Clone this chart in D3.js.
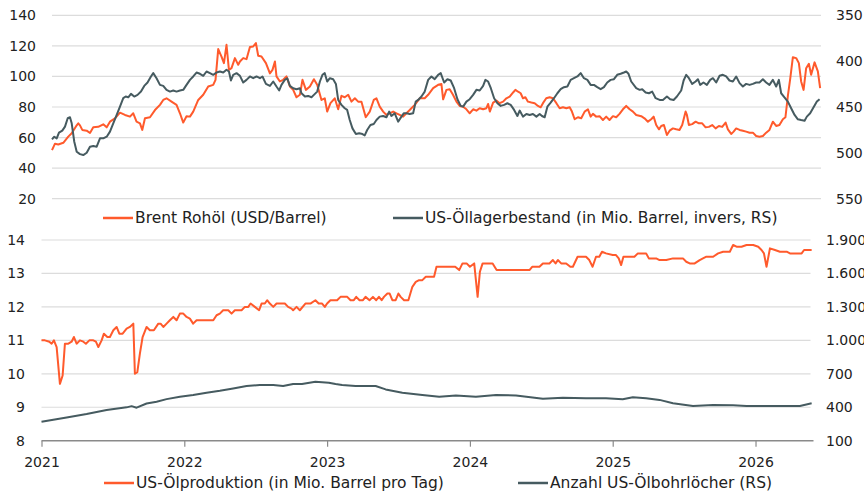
<!DOCTYPE html>
<html><head><meta charset="utf-8">
<script src="https://cdn.jsdelivr.net/npm/d3@7/dist/d3.min.js"></script>
<style>
body{margin:0;background:#fff}
svg{display:block}
text{font-family:"DejaVu Sans",Verdana,sans-serif;fill:#222}
</style>
</head><body>
<svg id="chart" width="864" height="494"></svg>
<script>
// ---------- DATA (time = years after 1 Jan 2021) ----------
const BASE_YEAR = 2021;
const END_OFFSET = 5.385;

const brent = [[0,51.8],[0.021,56],[0.044,55.5],[0.079,56.6],[0.114,60.6],[0.138,62.8],[0.173,68],[0.184,69.3],[0.196,68],[0.212,65],[0.243,64.5],[0.266,63],[0.289,66.7],[0.324,67],[0.359,68.7],[0.383,66.7],[0.406,70.4],[0.441,72.6],[0.476,76.3],[0.511,74.8],[0.546,73.7],[0.569,75.9],[0.592,70.4],[0.616,69.3],[0.632,65],[0.651,72.6],[0.686,73.3],[0.721,78],[0.756,81.4],[0.779,84.6],[0.802,85.7],[0.837,83.5],[0.872,81.4],[0.896,75.9],[0.919,69.8],[0.942,74],[0.966,73.7],[0.989,77],[1.024,84.6],[1.059,88],[1.094,93.4],[1.129,94.5],[1.145,97.8],[1.164,117.9],[1.187,113],[1.204,108.7],[1.222,120.7],[1.239,104.3],[1.257,105.4],[1.281,112],[1.304,107.6],[1.316,109.8],[1.339,112],[1.362,111.3],[1.386,119.2],[1.409,119.6],[1.428,121.8],[1.444,113.5],[1.467,113],[1.498,108.7],[1.526,102],[1.544,104.3],[1.561,109.8],[1.572,100],[1.596,96.7],[1.619,97.8],[1.642,100],[1.666,93.4],[1.689,91.2],[1.712,86.4],[1.736,88],[1.754,97.8],[1.778,91.2],[1.806,93.4],[1.834,98.2],[1.857,94.5],[1.887,84.6],[1.910,85.7],[1.927,77],[1.950,82.5],[1.980,85.7],[2.004,78.5],[2.027,87.3],[2.050,86.4],[2.074,88],[2.097,83.5],[2.121,85.7],[2.144,83.5],[2.167,83.5],[2.197,73.3],[2.225,77],[2.253,84.6],[2.272,85.7],[2.295,80.2],[2.319,77],[2.342,74.8],[2.365,75.9],[2.389,77],[2.412,75.9],[2.435,74.8],[2.459,73.7],[2.482,75.9],[2.505,78],[2.540,81.4],[2.575,85.7],[2.610,85.7],[2.634,88],[2.669,92.3],[2.704,94.5],[2.727,95],[2.739,85],[2.762,91.2],[2.785,91.6],[2.808,88],[2.832,83.5],[2.855,80.7],[2.879,80.2],[2.902,78.5],[2.925,75.9],[2.949,78.5],[2.972,77.6],[2.995,79.2],[3.019,78.5],[3.042,79.2],[3.054,82],[3.066,77],[3.089,82.9],[3.112,84.2],[3.135,82.5],[3.159,83.5],[3.182,85.7],[3.205,86.8],[3.229,89.5],[3.245,91.2],[3.264,90],[3.282,89],[3.298,85.7],[3.315,86.4],[3.333,83.5],[3.357,82.9],[3.380,82.5],[3.403,80.7],[3.422,79.8],[3.438,82.5],[3.461,85.7],[3.485,86.4],[3.508,85.7],[3.532,82.5],[3.555,79.2],[3.578,79.8],[3.602,79.2],[3.625,79.8],[3.641,77],[3.660,72],[3.683,73.3],[3.706,72.6],[3.730,77],[3.753,78.5],[3.772,73.7],[3.788,75.5],[3.811,73.7],[3.834,74],[3.858,71.5],[3.881,73.7],[3.904,71.5],[3.928,74],[3.951,73.3],[3.974,75.5],[3.998,78.5],[4.021,80.7],[4.045,78.5],[4.068,77],[4.091,74.8],[4.126,74],[4.149,72.6],[4.173,70.4],[4.196,72],[4.213,73.7],[4.231,68.2],[4.250,65.4],[4.266,67.6],[4.285,68.2],[4.306,61.7],[4.325,64.5],[4.348,66],[4.371,65.4],[4.394,65],[4.413,68.2],[4.437,77],[4.446,74.8],[4.460,68.2],[4.483,68.8],[4.507,70.4],[4.530,69.3],[4.553,69.3],[4.577,66.7],[4.600,67],[4.623,68.2],[4.647,66],[4.670,67.6],[4.693,67],[4.717,69.8],[4.733,65.4],[4.756,62.4],[4.773,63.9],[4.791,66],[4.815,65],[4.838,64.5],[4.861,63.9],[4.885,63.2],[4.908,63.2],[4.931,61],[4.954,60.6],[4.978,61],[5.001,63.2],[5.024,65],[5.048,70.4],[5.071,67.6],[5.094,68.2],[5.118,72],[5.136,73.3],[5.153,87.3],[5.170,98.9],[5.188,112.6],[5.211,112],[5.230,108.7],[5.246,96.7],[5.263,91.2],[5.281,105.4],[5.300,108.3],[5.316,101.1],[5.340,109.2],[5.363,103.3],[5.379,92.3]];

const inventory = [[0,485.3],[0.016,482.4],[0.033,484.2],[0.049,478],[0.072,475.8],[0.091,471.4],[0.110,462.3],[0.126,461.2],[0.138,467.8],[0.156,487.9],[0.173,498.8],[0.196,501.4],[0.219,502.4],[0.243,499.9],[0.266,493.3],[0.289,492.6],[0.313,493.3],[0.336,484.2],[0.359,484.2],[0.383,482.4],[0.406,476.9],[0.429,467.8],[0.453,458.7],[0.476,449.6],[0.499,440.4],[0.516,438.6],[0.534,439.4],[0.553,435.7],[0.576,438.6],[0.599,436.8],[0.623,433.2],[0.646,427],[0.669,423.3],[0.693,416.7],[0.709,413.1],[0.732,418.6],[0.756,425.9],[0.779,427],[0.802,431.3],[0.826,433.2],[0.849,432],[0.872,433.2],[0.896,432],[0.919,431.3],[0.942,425.9],[0.966,420.4],[0.989,416.7],[1.012,412.4],[1.036,413.8],[1.059,416],[1.082,411.3],[1.106,413.1],[1.129,414.9],[1.152,412.4],[1.176,411.3],[1.199,412.4],[1.222,409.4],[1.239,411.3],[1.253,421.1],[1.269,414.9],[1.292,413.1],[1.316,416],[1.339,423.3],[1.362,420.4],[1.386,416.7],[1.409,418.6],[1.432,416.7],[1.456,418.6],[1.474,416.7],[1.498,424.8],[1.526,427],[1.549,422.2],[1.572,427.7],[1.591,432],[1.607,425.9],[1.630,420.4],[1.647,418.6],[1.666,427],[1.689,429.5],[1.712,430.6],[1.736,429.5],[1.747,435],[1.771,438.6],[1.794,437.9],[1.817,439.4],[1.834,436.8],[1.857,433.2],[1.876,422.2],[1.894,414.9],[1.910,413.1],[1.927,422.2],[1.946,418.6],[1.969,419.7],[1.988,424.8],[2.004,442.3],[2.027,447.7],[2.050,451.4],[2.067,453.2],[2.085,464.2],[2.104,473.3],[2.128,479.5],[2.151,478.7],[2.174,479.5],[2.190,480.9],[2.207,475.1],[2.230,469.6],[2.253,468.5],[2.272,464.2],[2.295,460.5],[2.319,459.8],[2.342,461.2],[2.361,455],[2.377,459.8],[2.400,456.9],[2.424,466],[2.447,460.5],[2.463,456.9],[2.482,456.9],[2.505,457.6],[2.529,456.9],[2.547,444.1],[2.564,442.3],[2.587,438.6],[2.610,433.2],[2.634,420.4],[2.657,416.7],[2.680,419.7],[2.704,414.9],[2.722,413.1],[2.746,423.3],[2.769,419.7],[2.792,421.1],[2.816,429.5],[2.839,441.5],[2.862,448.8],[2.879,449.6],[2.902,444.1],[2.925,441.5],[2.949,436.8],[2.972,431.3],[2.995,432],[3.019,427],[3.035,420.4],[3.054,422.2],[3.073,429.5],[3.096,440.4],[3.119,445.9],[3.142,448.8],[3.166,447.7],[3.189,445.9],[3.212,447.7],[3.236,453.2],[3.259,459.8],[3.275,453.9],[3.298,460.5],[3.322,457.6],[3.345,458.7],[3.368,457.6],[3.392,460.5],[3.415,457.6],[3.431,459.8],[3.450,461.2],[3.469,449.6],[3.492,445.2],[3.515,440.4],[3.539,435],[3.562,430.6],[3.585,428.4],[3.609,427.7],[3.632,420.4],[3.655,418.6],[3.679,416.7],[3.702,413.1],[3.725,418.6],[3.749,420.4],[3.772,425.9],[3.795,425.9],[3.818,428.4],[3.842,430.6],[3.865,428.4],[3.888,423.3],[3.912,420.4],[3.935,419.7],[3.958,414.9],[3.982,413.8],[4.005,412.4],[4.021,411.3],[4.037,413.8],[4.056,422.2],[4.091,429.5],[4.115,431.3],[4.133,430.6],[4.157,434.2],[4.180,435],[4.203,433.2],[4.227,440.4],[4.255,442.3],[4.278,442.3],[4.306,438.6],[4.329,441.5],[4.353,442.3],[4.376,438.6],[4.406,432],[4.423,421.1],[4.441,414.9],[4.460,418.6],[4.483,424.8],[4.507,422.2],[4.523,419.7],[4.539,425.9],[4.562,423.3],[4.586,425.9],[4.609,420.4],[4.628,418.6],[4.651,423.3],[4.675,416],[4.698,414.9],[4.721,416.7],[4.744,421.1],[4.768,422.2],[4.791,416.7],[4.815,424],[4.838,427.7],[4.861,424.8],[4.885,425.9],[4.908,424.8],[4.931,423.3],[4.954,423.3],[4.978,419.7],[5.001,423.3],[5.024,425.9],[5.048,420.4],[5.071,427.7],[5.090,420.4],[5.106,435],[5.129,439.4],[5.153,444.1],[5.176,451.4],[5.200,458.7],[5.223,463.4],[5.246,464.2],[5.270,464.9],[5.286,460.5],[5.309,456.9],[5.333,450.3],[5.356,444.1],[5.375,441.5]];

const production = [[0,11.0],[0.024,11.0],[0.055,10.96],[0.071,10.9],[0.087,11.0],[0.106,10.8],[0.129,9.7],[0.148,9.95],[0.164,10.9],[0.188,10.9],[0.211,10.96],[0.227,11.1],[0.246,10.9],[0.269,11.0],[0.293,10.96],[0.311,10.9],[0.335,11.0],[0.363,11.0],[0.381,10.96],[0.398,10.8],[0.421,11.0],[0.437,11.2],[0.461,11.1],[0.479,11.1],[0.503,11.3],[0.526,11.4],[0.545,11.2],[0.568,11.2],[0.596,11.35],[0.619,11.4],[0.643,11.5],[0.654,10.0],[0.671,10.05],[0.689,10.6],[0.708,11.1],[0.736,11.4],[0.759,11.3],[0.787,11.3],[0.818,11.5],[0.834,11.5],[0.853,11.4],[0.876,11.5],[0.899,11.6],[0.923,11.7],[0.946,11.6],[0.969,11.8],[0.993,11.8],[1.016,11.7],[1.039,11.65],[1.062,11.5],[1.086,11.6],[1.203,11.6],[1.226,11.75],[1.249,11.8],[1.272,11.9],[1.308,11.9],[1.331,11.8],[1.354,11.9],[1.401,11.9],[1.424,12.0],[1.448,12.0],[1.464,12.1],[1.494,12.0],[1.524,11.9],[1.541,12.1],[1.564,12.1],[1.580,12.2],[1.599,12.1],[1.623,12.0],[1.646,12.1],[1.704,12.1],[1.727,12.0],[1.751,11.95],[1.762,11.9],[1.786,12.0],[1.809,11.9],[1.848,12.1],[1.883,12.1],[1.918,12.2],[1.941,12.1],[1.965,12.1],[1.984,12.0],[2.0,12.1],[2.023,12.2],[2.070,12.2],[2.094,12.3],[2.141,12.3],[2.164,12.2],[2.187,12.2],[2.204,12.3],[2.227,12.2],[2.251,12.2],[2.269,12.3],[2.297,12.2],[2.321,12.3],[2.344,12.2],[2.363,12.3],[2.382,12.2],[2.398,12.3],[2.422,12.4],[2.438,12.4],[2.457,12.2],[2.480,12.2],[2.499,12.4],[2.515,12.3],[2.539,12.2],[2.569,12.2],[2.597,12.6],[2.621,12.75],[2.644,12.8],[2.667,12.8],[2.691,12.9],[2.749,12.9],[2.766,13.2],[2.897,13.2],[2.925,13.1],[2.948,13.3],[2.977,13.3],[3.0,13.2],[3.030,13.3],[3.054,12.3],[3.070,13.05],[3.089,13.3],[3.159,13.3],[3.187,13.1],[3.417,13.1],[3.436,13.2],[3.487,13.2],[3.511,13.3],[3.557,13.3],[3.581,13.4],[3.600,13.3],[3.616,13.4],[3.639,13.3],[3.674,13.3],[3.703,13.2],[3.721,13.2],[3.754,13.5],[3.813,13.5],[3.836,13.4],[3.859,13.2],[3.883,13.5],[3.906,13.5],[3.925,13.65],[3.953,13.6],[4.0,13.55],[4.023,13.55],[4.042,13.45],[4.059,13.25],[4.075,13.5],[4.152,13.5],[4.176,13.6],[4.234,13.6],[4.253,13.45],[4.304,13.45],[4.328,13.4],[4.375,13.4],[4.422,13.45],[4.492,13.45],[4.515,13.35],[4.539,13.3],[4.574,13.3],[4.609,13.4],[4.632,13.45],[4.656,13.5],[4.703,13.5],[4.738,13.6],[4.773,13.65],[4.820,13.65],[4.843,13.85],[4.867,13.8],[4.902,13.8],[4.937,13.85],[4.984,13.85],[5.019,13.8],[5.042,13.7],[5.059,13.6],[5.077,13.2],[5.101,13.75],[5.136,13.7],[5.171,13.65],[5.218,13.65],[5.241,13.6],[5.323,13.6],[5.340,13.7],[5.393,13.7]];

const rigs = [[0,270],[0.176,309],[0.316,339],[0.456,375],[0.596,399],[0.631,410],[0.666,396],[0.736,434],[0.806,449],[0.876,473],[0.969,494],[1.062,509],[1.156,530],[1.249,548],[1.342,569],[1.436,590],[1.529,599],[1.623,599],[1.692,590],[1.762,608],[1.824,608],[1.918,629],[2.012,620],[2.059,608],[2.105,599],[2.199,590],[2.340,590],[2.410,560],[2.527,530],[2.667,509],[2.785,494],[2.902,506],[3.042,494],[3.183,509],[3.323,506],[3.511,476],[3.651,485],[3.813,481],[3.953,481],[4.070,472],[4.141,490],[4.234,481],[4.328,466],[4.422,436],[4.562,412],[4.703,421],[4.843,418],[4.937,412],[5.077,412],[5.218,412],[5.311,412],[5.393,436]];

const topLeftTicks = [20, 40, 60, 80, 100, 120, 140];
const topRightTicks = [350, 400, 450, 500, 550];
const bottomLeftTicks = [8, 9, 10, 11, 12, 13, 14];
const bottomRightTicks = [100, 400, 700, 1000, 1300, 1600, 1900];
const yearTicks = [2021, 2022, 2023, 2024, 2025, 2026];
const topLegend = ["Brent Rohöl (USD/Barrel)", "US-Öllagerbestand (in Mio. Barrel, invers, RS)"];
const bottomLegend = ["US-Ölproduktion (in Mio. Barrel pro Tag)", "Anzahl US-Ölbohrlöcher (RS)"];

// ---------- STYLE ----------
const ORANGE = "#ff5a2c";
const SLATE = "#465b60";
const GRID = "#dcdcdc";
const TICK_FONT = 14;
const LEGEND_FONT = 15.5;

const svg = d3.select("#chart");
const de = d3.formatLocale({decimal: ",", thousands: ".", grouping: [3], currency: ["", "€"]});
const fmtDE = de.format(",");
const fmtInt = d3.format("d");

const toYear = d => BASE_YEAR + d[0];

// ---------- TOP PANEL ----------
const xTop = d3.scaleLinear().domain([BASE_YEAR, BASE_YEAR + END_OFFSET]).range([52, 821]);
const yTopL = d3.scaleLinear().domain([20, 140]).range([198.7, 15.3]);
const yTopR = d3.scaleLinear().domain([350, 550]).range([15.3, 198.7]);

const gT = svg.append("g");
gT.append("g").selectAll("line").data(topLeftTicks).join("line")
  .attr("x1", xTop.range()[0]).attr("x2", xTop.range()[1])
  .attr("y1", d => yTopL(d)).attr("y2", d => yTopL(d))
  .attr("stroke", GRID).attr("stroke-width", 1.2);

const axTL = gT.append("g").attr("transform", "translate(36,0)")
  .call(d3.axisLeft(yTopL).tickValues(topLeftTicks).tickFormat(fmtInt).tickSize(0).tickPadding(0));
const axTR = gT.append("g").attr("transform", "translate(836,0)")
  .call(d3.axisRight(yTopR).tickValues(topRightTicks).tickFormat(fmtInt).tickSize(0).tickPadding(0));

const lineTopL = d3.line().x(d => xTop(toYear(d))).y(d => yTopL(d[1]));
const lineTopR = d3.line().x(d => xTop(toYear(d))).y(d => yTopR(d[1]));
gT.append("path").datum(brent).attr("d", lineTopL)
  .attr("fill", "none").attr("stroke", ORANGE).attr("stroke-width", 2).attr("stroke-linejoin", "round");
gT.append("path").datum(inventory).attr("d", lineTopR)
  .attr("fill", "none").attr("stroke", SLATE).attr("stroke-width", 2).attr("stroke-linejoin", "round");

// ---------- BOTTOM PANEL ----------
const xBot = d3.scaleLinear().domain([BASE_YEAR, BASE_YEAR + END_OFFSET]).range([41.5, 810.5]);
const yBotL = d3.scaleLinear().domain([8, 14]).range([440.7, 240]);
const yBotR = d3.scaleLinear().domain([100, 1900]).range([440.7, 240]);

const gB = svg.append("g");
gB.append("g").selectAll("line").data(bottomLeftTicks.filter(d => d > 8)).join("line")
  .attr("x1", xBot.range()[0]).attr("x2", xBot.range()[1])
  .attr("y1", d => yBotL(d)).attr("y2", d => yBotL(d))
  .attr("stroke", GRID).attr("stroke-width", 1.2);

const axBL = gB.append("g").attr("transform", "translate(25,0)")
  .call(d3.axisLeft(yBotL).tickValues(bottomLeftTicks).tickFormat(fmtInt).tickSize(0).tickPadding(0));
const axBR = gB.append("g").attr("transform", "translate(826,0)")
  .call(d3.axisRight(yBotR).tickValues(bottomRightTicks).tickFormat(fmtDE).tickSize(0).tickPadding(0));

const axX = gB.append("g").attr("transform", `translate(0,${yBotL(8)})`)
  .call(d3.axisBottom(xBot).tickValues(yearTicks).tickFormat(fmtInt).tickSize(6).tickPadding(10).tickSizeOuter(0));
axX.select(".domain").attr("stroke", "#8a8a8a").attr("stroke-width", 1.5).attr("d", `M${xBot.range()[0]},0H${xBot.range()[1] + 3}`);
axX.selectAll(".tick line").attr("stroke", "#8a8a8a").attr("stroke-width", 1.2);

const lineBotL = d3.line().x(d => xBot(toYear(d))).y(d => yBotL(d[1]));
const lineBotR = d3.line().x(d => xBot(toYear(d))).y(d => yBotR(d[1]));
gB.append("path").datum(production).attr("d", lineBotL)
  .attr("fill", "none").attr("stroke", ORANGE).attr("stroke-width", 2).attr("stroke-linejoin", "round");
gB.append("path").datum(rigs).attr("d", lineBotR)
  .attr("fill", "none").attr("stroke", SLATE).attr("stroke-width", 2).attr("stroke-linejoin", "round");

// axis text styling
[axTL, axTR, axBL, axBR, axX].forEach(a => {
  a.selectAll(".tick text").attr("font-size", TICK_FONT).attr("fill", "#222")
    .attr("font-family", "'DejaVu Sans', Verdana, sans-serif");
});
[axTL, axTR, axBL, axBR].forEach(a => a.select(".domain").remove());

// ---------- LEGENDS ----------
function legend(items, y, xs, colors) {
  const g = svg.append("g");
  items.forEach((label, i) => {
    g.append("line").attr("x1", xs[i]).attr("x2", xs[i] + 30).attr("y1", y).attr("y2", y)
      .attr("stroke", colors[i]).attr("stroke-width", 2.5);
    g.append("text").attr("x", xs[i] + 32).attr("y", y).attr("dy", "0.35em")
      .attr("font-size", LEGEND_FONT).text(label);
  });
}
legend(topLegend, 218, [103, 393], [ORANGE, SLATE]);
legend(bottomLegend, 483, [104, 518], [ORANGE, SLATE]);
</script>
</body></html>
